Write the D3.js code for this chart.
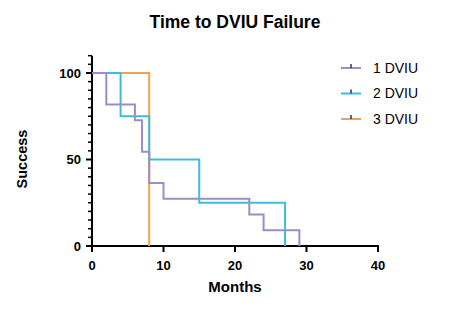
<!DOCTYPE html>
<html><head><meta charset="utf-8">
<script src="https://cdn.jsdelivr.net/npm/d3@7"></script>
<style>body{margin:0;background:#fff;} svg{display:block;font-family:"Liberation Sans",Arial,sans-serif;}</style>
</head><body><svg id="c" width="476" height="328"></svg>
<script>
const seriesNames = ["1 DVIU", "2 DVIU", "3 DVIU"];
const seriesColors = ["#9d8cc6", "#3cbde0", "#f0a34e"];
// step points [months, survival %]
const dviu1 = [[0,100],[2,81.8],[6,72.7],[7,54.5],[8,36.4],[10,27.3],[22,18.2],[24,9.1],[29,0]];
const dviu2 = [[0,100],[4,75],[8,50],[15,25],[27,0]];
const dviu3 = [[0,100],[8,0]];
const xTicks = [0,10,20,30,40];
const yTicks = [0,50,100];

const svg = d3.select("#c");
const x = d3.scaleLinear().domain([0,40]).range([92,378]);
const y = d3.scaleLinear().domain([0,100]).range([246,73]);

svg.append("text").attr("x",235).attr("y",28).attr("text-anchor","middle")
  .attr("font-weight","bold").attr("font-size",17.5).text("Time to DVIU Failure");

// y axis
const ya = svg.append("g").attr("transform","translate(92,0)");
ya.append("line").attr("x1",0).attr("x2",0).attr("y1",y(0)+1).attr("y2",y(110)).attr("stroke","#000").attr("stroke-width",2);
d3.range(0,111,5).forEach(v=>{
  const major = yTicks.includes(v);
  ya.append("line").attr("x1",major?-6:-4).attr("x2",0).attr("y1",y(v)).attr("y2",y(v)).attr("stroke","#000").attr("stroke-width",major?2:1.5);
});
yTicks.forEach(v=>{
  ya.append("text").attr("x",-11).attr("y",y(v)).attr("dy","0.35em").attr("text-anchor","end")
    .attr("font-weight","bold").attr("font-size",13).text(v);
});
// x axis
const xa = svg.append("g");
xa.append("line").attr("x1",x(0)-1).attr("x2",x(40)+1).attr("y1",246).attr("y2",246).attr("stroke","#000").attr("stroke-width",2);
xTicks.forEach(v=>{
  xa.append("line").attr("x1",x(v)).attr("x2",x(v)).attr("y1",246).attr("y2",252).attr("stroke","#000").attr("stroke-width",2);
  xa.append("text").attr("x",x(v)).attr("y",270).attr("text-anchor","middle")
    .attr("font-weight","bold").attr("font-size",13).text(v);
});
svg.append("text").attr("x",235).attr("y",292).attr("text-anchor","middle")
  .attr("font-weight","bold").attr("font-size",15).text("Months");
svg.append("text").attr("transform","translate(27,159) rotate(-90)").attr("text-anchor","middle")
  .attr("font-weight","bold").attr("font-size",14.5).text("Success");

const line = d3.line().x(d=>x(d[0])).y(d=>y(d[1])).curve(d3.curveStepAfter);
const data = [dviu1, dviu2, dviu3];
[2,1,0].forEach(i=>{
  svg.append("path").datum(data[i]).attr("d",line).attr("fill","none")
    .attr("stroke",seriesColors[i]).attr("stroke-width",2);
});

// legend
seriesNames.forEach((n,i)=>{
  const yy = 68 + i*25.5;
  svg.append("line").attr("x1",341).attr("x2",361).attr("y1",yy).attr("y2",yy).attr("stroke",seriesColors[i]).attr("stroke-width",2);
  svg.append("line").attr("x1",351).attr("x2",351).attr("y1",yy-4).attr("y2",yy).attr("stroke","#2a3550").attr("stroke-width",1.5);
  svg.append("text").attr("x",373).attr("y",yy).attr("dy","0.35em").attr("font-size",14).text(n);
});
</script></body></html>
